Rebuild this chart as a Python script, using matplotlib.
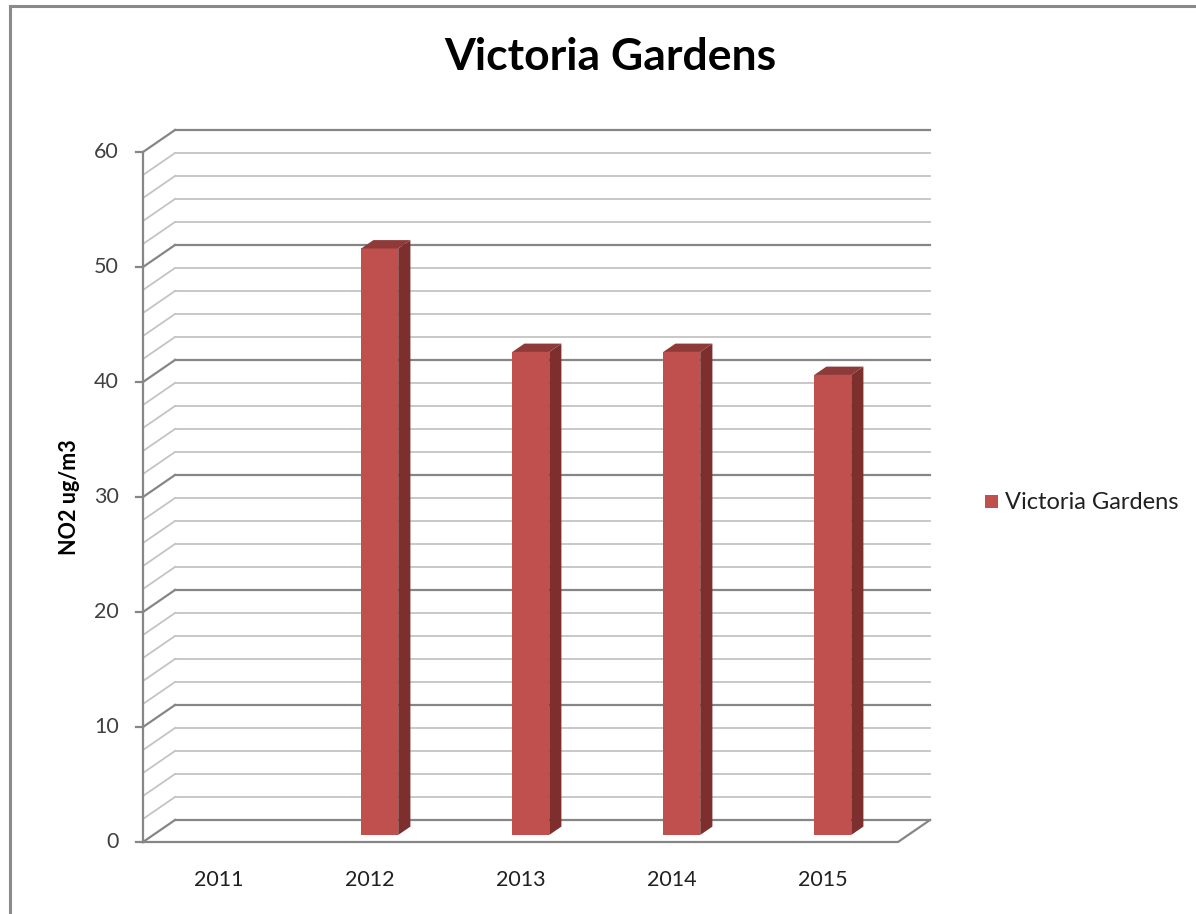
import matplotlib.pyplot as plt
from matplotlib.patches import Polygon, Rectangle

# data
years = ['2011', '2012', '2013', '2014', '2015']
no2 = [None, 51, 42, 42, 40]
series_name = 'Victoria Gardens'
y_ticks = [0, 10, 20, 30, 40, 50, 60]

FONT = ['Lato', 'DejaVu Sans']
plt.rcParams['font.family'] = FONT

W, H = 1196, 914
fig = plt.figure(figsize=(W / 100, H / 100), dpi=100)

# front plane of the plot area, in pixels
left_px, right_px = 143, 898
bottom_px, top_px = 842, 152
ax = fig.add_axes([left_px / W, 1 - bottom_px / H,
                   (right_px - left_px) / W, (bottom_px - top_px) / H])
ax.set_xlim(-0.5, len(years) - 0.5)
ax.set_ylim(0, 60)
ax.axis('off')

# 3d depth offset (back wall relative to front plane), converted to data units
px_x = (right_px - left_px) / len(years)
px_y = (bottom_px - top_px) / 60.0
ddx = 32 / px_x
ddy = 22 / px_y

x0, x1 = -0.5, len(years) - 0.5

# gridlines on back wall and side wall
for v in range(0, 61, 2):
    major = v % 10 == 0
    col = '#868686' if major else '#c4c4c4'
    lw = 1.6 if major else 1.3
    ax.plot([x0 + ddx, x1 + ddx], [v + ddy, v + ddy], color=col, lw=lw,
            clip_on=False, zorder=1)
    ax.plot([x0, x0 + ddx], [v, v + ddy], color=col, lw=lw,
            clip_on=False, zorder=1)

# floor front edge + right edge
ax.plot([x0, x1, x1 + ddx], [0, 0, ddy], color='#868686', lw=1.6,
        clip_on=False, zorder=2)

# vertical axis with ticks
ax.plot([x0, x0], [0, 60], color='#868686', lw=1.6, clip_on=False, zorder=3)
tick_len = 7 / px_x
for t in y_ticks:
    ax.plot([x0 - tick_len, x0], [t, t], color='#868686', lw=1.6,
            clip_on=False, zorder=3)
    ax.text(x0 - 24 / px_x, t, str(t), ha='right', va='center',
            fontsize=15.5, color='#404040')

# bars (3d-ish columns)
bw = 37 / px_x
f0, f1 = 0.32, 0.70
front_c, side_c, top_c = '#c0504d', '#7c2f2d', '#8e3a38'
for i, v in enumerate(no2):
    if not v:
        continue
    xl = i - bw / 2 + f0 * ddx
    xr = xl + bw
    yb = f0 * ddy
    yt = v + f0 * ddy
    d = (f1 - f0)
    ax.add_patch(Rectangle((xl, yb), bw, v, facecolor=front_c,
                           edgecolor='none', zorder=5, clip_on=False))
    ax.add_patch(Polygon([(xr, yb), (xr + d * ddx, yb + d * ddy),
                          (xr + d * ddx, yt + d * ddy), (xr, yt)],
                         closed=True, facecolor=side_c, edgecolor='none',
                         zorder=5, clip_on=False))
    ax.add_patch(Polygon([(xl, yt), (xr, yt), (xr + d * ddx, yt + d * ddy),
                          (xl + d * ddx, yt + d * ddy)],
                         closed=True, facecolor=top_c, edgecolor='none',
                         zorder=5, clip_on=False))

# category labels
for i, yr in enumerate(years):
    ax.text(i, -3.3, yr, ha='center', va='center', fontsize=15.5,
            color='#202020')

# title, axis label, legend
fig.text(610 / W, 1 - 57 / H, series_name, ha='center', va='center',
         fontsize=32, fontweight='bold')
fig.text(70 / W, 1 - 497 / H, 'NO2 ug/m3', ha='center', va='center',
         rotation=90, fontsize=15.5, fontweight='bold')
fig.patches.append(Rectangle((985 / W, 1 - 508 / H), 13 / W, 13 / H,
                             transform=fig.transFigure, facecolor=front_c,
                             edgecolor='none'))
fig.text(1005 / W, 1 - 502 / H, series_name, ha='left', va='center',
         fontsize=17, color='#202020')

# chart area border
fig.patches.append(Rectangle((9.5 / W, -0.01), 1.1, 1 - 5.5 / H + 0.01,
                             transform=fig.transFigure, facecolor='none',
                             edgecolor='#8a8a8a', lw=2.2))

fig.savefig('out.png', dpi=100)
